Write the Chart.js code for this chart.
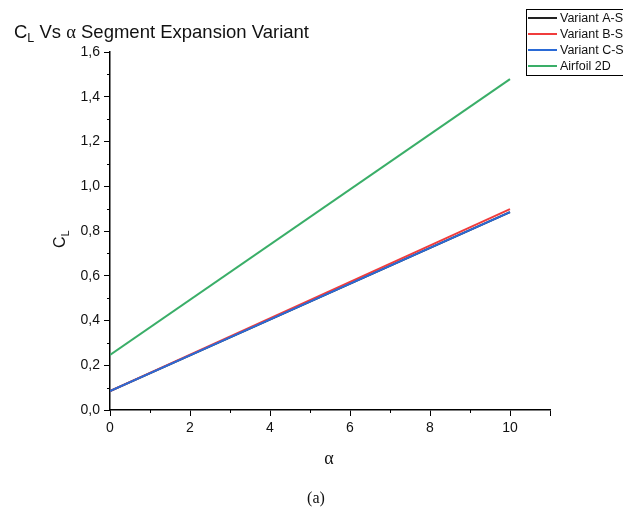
<!DOCTYPE html>
<html>
<head>
<meta charset="utf-8">
<script src="https://cdn.jsdelivr.net/npm/chart.js@4"></script>
<style>
  html, body { margin: 0; padding: 0; background: #fff; }
  #wrap { width: 623px; height: 525px; position: relative; }
</style>
</head>
<body>
<div id="wrap"><canvas id="myChart" width="623" height="525"></canvas></div>
<script>
// data
var alpha = [0, 10];
var variantA = [0.085, 0.884];
var variantB = [0.085, 0.898];
var variantC = [0.085, 0.884];
var airfoil2D = [0.246, 1.479];
var seriesNames = ['Variant A-Segment', 'Variant B-Segment', 'Variant C-Segment', 'Airfoil 2D'];
var seriesColors = ['#222222', '#f03c3c', '#2a6ad6', '#3aae68'];
var xTicks = [0, 2, 4, 6, 8, 10];
var xMinor = [1, 3, 5, 7, 9];
var yMinor = [0.1, 0.3, 0.5, 0.7, 0.9, 1.1, 1.3, 1.5];

function pts(ys)
{
    var out = [];
    for (var i = 0; i < alpha.length; i++) out.push({x: alpha[i], y: ys[i]});
    return out;
}

var allSeries = [variantA, variantB, variantC, airfoil2D];
var datasets = [];
for (var i = 0; i < allSeries.length; i++)
{
    datasets.push({
        label: seriesNames[i],
        data: pts(allSeries[i]),
        borderColor: seriesColors[i],
        backgroundColor: seriesColors[i],
        borderWidth: 2,
        pointRadius: 0,
        fill: false,
        order: allSeries.length - i   // later series drawn on top
    });
}

// title, axis titles, legend box, minor ticks, caption
var extras = {
    id: 'extras',
    afterDraw: function(chart)
    {
        var ctx = chart.ctx;
        var xs = chart.scales.x, ys = chart.scales.y;
        ctx.save();
        ctx.strokeStyle = '#000';
        ctx.lineWidth = 1;
        // minor ticks
        ctx.beginPath();
        xMinor.forEach(function(v){
            var px = Math.round(xs.getPixelForValue(v)) + 0.5;
            ctx.moveTo(px, ys.bottom); ctx.lineTo(px, ys.bottom + 3);
        });
        yMinor.forEach(function(v){
            var py = Math.round(ys.getPixelForValue(v)) + 0.5;
            ctx.moveTo(xs.left, py); ctx.lineTo(xs.left - 3, py);
        });
        ctx.stroke();

        ctx.fillStyle = '#111';
        ctx.textBaseline = 'alphabetic';
        // chart title
        ctx.textAlign = 'left';
        var big = '18.5px "Liberation Sans", Arial, sans-serif';
        ctx.font = big;
        var tx = 14, ty = 38;
        ctx.fillText('C', tx, ty);
        var w = ctx.measureText('C').width;
        ctx.font = '12.5px "Liberation Sans", Arial, sans-serif';
        ctx.fillText('L', tx + w, ty + 4);
        w += ctx.measureText('L').width;
        ctx.font = big;
        ctx.fillText(' Vs ', tx + w, ty);
        w += ctx.measureText(' Vs ').width;
        ctx.font = '18.5px "Liberation Serif", "Times New Roman", serif';
        ctx.fillText('\u03b1', tx + w, ty);
        w += ctx.measureText('\u03b1').width;
        ctx.font = big;
        ctx.fillText(' Segment Expansion Variant', tx + w, ty);

        // y axis title
        ctx.save();
        ctx.translate(65, 240);
        ctx.rotate(-Math.PI / 2);
        ctx.font = '16px "Liberation Sans", Arial, sans-serif';
        ctx.textAlign = 'left';
        ctx.fillText('C', -8, 0);
        ctx.font = '11px "Liberation Sans", Arial, sans-serif';
        ctx.fillText('L', 3.5, 4);
        ctx.restore();

        // x axis title
        ctx.textAlign = 'center';
        ctx.font = '18px "Liberation Serif", "Times New Roman", serif';
        ctx.fillText('\u03b1', 329, 464);

        // caption
        ctx.font = '16px "Liberation Serif", "Times New Roman", serif';
        ctx.fillText('(a)', 316, 503);

        // legend box
        ctx.strokeStyle = '#000';
        ctx.lineWidth = 1;
        ctx.strokeRect(526.5, 9.5, 130, 66);
        ctx.textAlign = 'left';
        ctx.textBaseline = 'middle';
        ctx.font = '12.5px "Liberation Sans", Arial, sans-serif';
        var rows = [18, 34, 50, 66];
        for (var i = 0; i < seriesNames.length; i++)
        {
            ctx.strokeStyle = seriesColors[i];
            ctx.lineWidth = 2;
            ctx.beginPath();
            ctx.moveTo(528, rows[i]); ctx.lineTo(557, rows[i]);
            ctx.stroke();
            ctx.fillStyle = '#111';
            ctx.fillText(seriesNames[i], 560, rows[i] + 1);
        }
        ctx.restore();
    }
};

var canvas = document.getElementById('myChart');
var myChart = new Chart(canvas.getContext('2d'),
{
    type: 'line',
    data: { datasets: datasets },
    options:
    {
        responsive: false,
        animation: false,
        layout: { padding: { top: 52, right: 73, left: 0, bottom: 0 } },
        plugins: { legend: { display: false }, title: { display: false }, tooltip: { enabled: false } },
        scales:
        {
            x: {
                type: 'linear', min: 0, max: 11,
                afterFit: function(s){ s.height = 115; },
                afterBuildTicks: function(s){
                    s.ticks = xTicks.concat([11]).map(function(v){ return {value: v}; });
                },
                ticks: {
                    color: '#111', padding: 4,
                    font: { family: '"Liberation Sans", Arial, sans-serif', size: 14 },
                    callback: function(v){ return v > 10 ? '' : String(v); },
                    maxRotation: 0
                },
                grid: { drawOnChartArea: false, color: '#000', tickLength: 6, lineWidth: 1 },
                border: { color: '#000', width: 1.5 }
            },
            y: {
                type: 'linear', min: 0, max: 1.6,
                afterFit: function(s){ s.width = 110; },
                ticks: {
                    stepSize: 0.2, color: '#111', padding: 4,
                    font: { family: '"Liberation Sans", Arial, sans-serif', size: 14 },
                    callback: function(v){ return v.toFixed(1).replace('.', ','); }
                },
                grid: { drawOnChartArea: false, color: '#000', tickLength: 6, lineWidth: 1 },
                border: { color: '#000', width: 1.5 }
            }
        }
    },
    plugins: [extras]
});
</script>
</body>
</html>
